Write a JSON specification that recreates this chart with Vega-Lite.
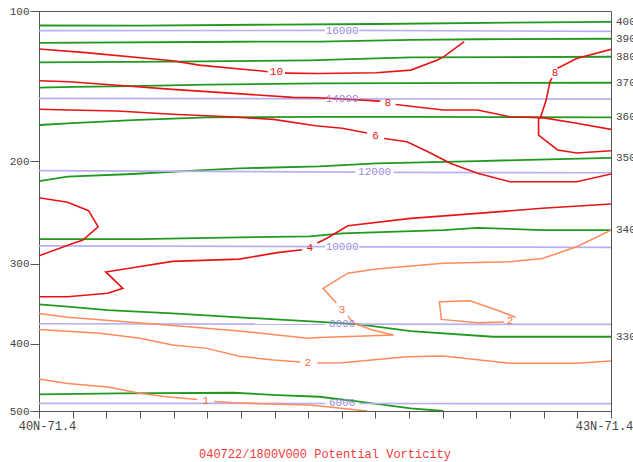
{
  "$schema": "https://vega.github.io/schema/vega-lite/v6.json",
  "width": 572,
  "height": 400,
  "autosize": {"type": "none"},
  "padding": {"left": 39, "top": 11, "right": 22, "bottom": 51},
  "background": "white",
  "config": {
    "view": {"stroke": "#555", "strokeWidth": 1},
    "font": "Liberation Mono"
  },
  "title": {
    "text": "040722/1800V000 Potential Vorticity",
    "orient": "bottom",
    "anchor": "middle",
    "offset": 18,
    "font": "Liberation Mono",
    "fontSize": 12,
    "fontWeight": "normal",
    "color": "#f03a3a"
  },
  "datasets": {
    "lines": [
      {"id":"g400","k":"theta","o":1,"lat":40,"p":107.6},{"id":"g400","k":"theta","o":2,"lat":40.53,"p":107.7},{"id":"g400","k":"theta","o":3,"lat":41.25,"p":107.1},{"id":"g400","k":"theta","o":4,"lat":41.77,"p":106.8},{"id":"g400","k":"theta","o":5,"lat":42.47,"p":106.1},{"id":"g400","k":"theta","o":6,"lat":43,"p":105.7},
      {"id":"g390","k":"theta","o":1,"lat":40,"p":117.2},{"id":"g390","k":"theta","o":2,"lat":41.05,"p":116.6},{"id":"g390","k":"theta","o":3,"lat":41.47,"p":116.5},{"id":"g390","k":"theta","o":4,"lat":41.95,"p":115.6},{"id":"g390","k":"theta","o":5,"lat":42.3,"p":115.2},{"id":"g390","k":"theta","o":6,"lat":43,"p":114.9},
      {"id":"g380","k":"theta","o":1,"lat":40,"p":128.8},{"id":"g380","k":"theta","o":2,"lat":40.7,"p":128.4},{"id":"g380","k":"theta","o":3,"lat":41.42,"p":127.6},{"id":"g380","k":"theta","o":4,"lat":41.59,"p":127.0},{"id":"g380","k":"theta","o":5,"lat":41.95,"p":125.8},{"id":"g380","k":"theta","o":6,"lat":43,"p":125.4},
      {"id":"g370","k":"theta","o":1,"lat":40,"p":145.0},{"id":"g370","k":"theta","o":2,"lat":40.18,"p":144.4},{"id":"g370","k":"theta","o":3,"lat":40.49,"p":143.9},{"id":"g370","k":"theta","o":4,"lat":40.88,"p":143.0},{"id":"g370","k":"theta","o":5,"lat":41.23,"p":142.5},{"id":"g370","k":"theta","o":6,"lat":41.47,"p":142.1},{"id":"g370","k":"theta","o":7,"lat":43,"p":141.7},
      {"id":"g360","k":"theta","o":1,"lat":40,"p":171.4},{"id":"g360","k":"theta","o":2,"lat":40.15,"p":170.1},{"id":"g360","k":"theta","o":3,"lat":40.49,"p":167.7},{"id":"g360","k":"theta","o":4,"lat":40.88,"p":165.7},{"id":"g360","k":"theta","o":5,"lat":41.47,"p":165.3},{"id":"g360","k":"theta","o":6,"lat":41.95,"p":165.3},{"id":"g360","k":"theta","o":7,"lat":43,"p":165.7},
      {"id":"g350","k":"theta","o":1,"lat":40,"p":217.3},{"id":"g350","k":"theta","o":2,"lat":40.15,"p":213.4},{"id":"g350","k":"theta","o":3,"lat":40.49,"p":211.1},{"id":"g350","k":"theta","o":4,"lat":40.81,"p":208.2},{"id":"g350","k":"theta","o":5,"lat":41.05,"p":206.2},{"id":"g350","k":"theta","o":6,"lat":41.47,"p":204.5},{"id":"g350","k":"theta","o":7,"lat":41.77,"p":202.0},{"id":"g350","k":"theta","o":8,"lat":42.3,"p":200.0},{"id":"g350","k":"theta","o":9,"lat":43,"p":197.3},
      {"id":"g340","k":"theta","o":1,"lat":40,"p":273.4},{"id":"g340","k":"theta","o":2,"lat":40.53,"p":273.4},{"id":"g340","k":"theta","o":3,"lat":41.05,"p":271.7},{"id":"g340","k":"theta","o":4,"lat":41.42,"p":270.6},{"id":"g340","k":"theta","o":5,"lat":41.59,"p":267.5},{"id":"g340","k":"theta","o":6,"lat":42.12,"p":264.1},{"id":"g340","k":"theta","o":7,"lat":42.3,"p":261.8},{"id":"g340","k":"theta","o":8,"lat":42.64,"p":264.1},{"id":"g340","k":"theta","o":9,"lat":43,"p":264.1},
      {"id":"g330","k":"theta","o":1,"lat":40,"p":348.1},{"id":"g330","k":"theta","o":2,"lat":40.15,"p":351.1},{"id":"g330","k":"theta","o":3,"lat":40.36,"p":355.3},{"id":"g330","k":"theta","o":4,"lat":40.7,"p":359.5},{"id":"g330","k":"theta","o":5,"lat":41.05,"p":364.6},{"id":"g330","k":"theta","o":6,"lat":41.45,"p":370.0},{"id":"g330","k":"theta","o":7,"lat":41.68,"p":373.7},{"id":"g330","k":"theta","o":8,"lat":41.95,"p":382.5},{"id":"g330","k":"theta","o":9,"lat":42.38,"p":390.2},{"id":"g330","k":"theta","o":10,"lat":43,"p":390.2},
      {"id":"g320","k":"theta","o":1,"lat":40,"p":473.6},{"id":"g320","k":"theta","o":2,"lat":40.42,"p":472.1},{"id":"g320","k":"theta","o":3,"lat":41.02,"p":471.2},{"id":"g320","k":"theta","o":4,"lat":41.25,"p":474.8},{"id":"g320","k":"theta","o":5,"lat":41.47,"p":477.4},{"id":"g320","k":"theta","o":6,"lat":41.68,"p":485.2},{"id":"g320","k":"theta","o":7,"lat":41.95,"p":495.9},{"id":"g320","k":"theta","o":8,"lat":42.12,"p":500},
      {"id":"h16a","k":"height","o":1,"lat":40,"p":110.4},{"id":"h16a","k":"height","o":2,"lat":41.5,"p":110.3},
      {"id":"h16b","k":"height","o":1,"lat":41.68,"p":110.3},{"id":"h16b","k":"height","o":2,"lat":43,"p":110.8},
      {"id":"h14a","k":"height","o":1,"lat":40,"p":152.2},{"id":"h14a","k":"height","o":2,"lat":41.5,"p":152.5},
      {"id":"h14b","k":"height","o":1,"lat":41.68,"p":152.6},{"id":"h14b","k":"height","o":2,"lat":43,"p":152.7},
      {"id":"h12a","k":"height","o":1,"lat":40,"p":208.2},{"id":"h12a","k":"height","o":2,"lat":41.66,"p":209.5},
      {"id":"h12b","k":"height","o":1,"lat":41.86,"p":209.7},{"id":"h12b","k":"height","o":2,"lat":43,"p":210.0},
      {"id":"h10a","k":"height","o":1,"lat":40,"p":280.5},{"id":"h10a","k":"height","o":2,"lat":41.5,"p":281.4},
      {"id":"h10b","k":"height","o":1,"lat":41.68,"p":281.6},{"id":"h10b","k":"height","o":2,"lat":43,"p":282.2},
      {"id":"h8a","k":"height","o":1,"lat":40,"p":372.9},{"id":"h8a","k":"height","o":2,"lat":41.5,"p":373.4},
      {"id":"h8b","k":"height","o":1,"lat":41.68,"p":373.5},{"id":"h8b","k":"height","o":2,"lat":43,"p":373.7},
      {"id":"h6a","k":"height","o":1,"lat":40,"p":487.7},{"id":"h6a","k":"height","o":2,"lat":41.5,"p":488.0},
      {"id":"h6b","k":"height","o":1,"lat":41.68,"p":488.0},{"id":"h6b","k":"height","o":2,"lat":43,"p":488.3},
      {"id":"pv10a","k":"pvhi","o":1,"lat":40,"p":120.8},{"id":"pv10a","k":"pvhi","o":2,"lat":40.23,"p":122.8},{"id":"pv10a","k":"pvhi","o":3,"lat":40.7,"p":127.8},{"id":"pv10a","k":"pvhi","o":4,"lat":40.84,"p":130.5},{"id":"pv10a","k":"pvhi","o":5,"lat":41.17,"p":134.2},{"id":"pv10a","k":"pvhi","o":6,"lat":41.2,"p":134.6},
      {"id":"pv10b","k":"pvhi","o":1,"lat":41.29,"p":135.5},{"id":"pv10b","k":"pvhi","o":2,"lat":41.47,"p":135.7},{"id":"pv10b","k":"pvhi","o":3,"lat":41.77,"p":135.3},{"id":"pv10b","k":"pvhi","o":4,"lat":41.95,"p":133.6},{"id":"pv10b","k":"pvhi","o":5,"lat":42.09,"p":127.4},{"id":"pv10b","k":"pvhi","o":6,"lat":42.12,"p":125.6},{"id":"pv10b","k":"pvhi","o":7,"lat":42.23,"p":116.6},
      {"id":"pv8a","k":"pvhi","o":1,"lat":40,"p":140.4},{"id":"pv8a","k":"pvhi","o":2,"lat":40.16,"p":141.1},{"id":"pv8a","k":"pvhi","o":3,"lat":40.41,"p":143.4},{"id":"pv8a","k":"pvhi","o":4,"lat":40.7,"p":146.1},{"id":"pv8a","k":"pvhi","o":5,"lat":41.02,"p":148.8},{"id":"pv8a","k":"pvhi","o":6,"lat":41.33,"p":151.5},{"id":"pv8a","k":"pvhi","o":7,"lat":41.47,"p":151.8},{"id":"pv8a","k":"pvhi","o":8,"lat":41.79,"p":154.1},
      {"id":"pv8b","k":"pvhi","o":1,"lat":41.87,"p":156.5},{"id":"pv8b","k":"pvhi","o":2,"lat":42.12,"p":160.4},{"id":"pv8b","k":"pvhi","o":3,"lat":42.3,"p":160.4},{"id":"pv8b","k":"pvhi","o":4,"lat":42.47,"p":165.3},{"id":"pv8b","k":"pvhi","o":5,"lat":42.63,"p":165.9},{"id":"pv8b","k":"pvhi","o":6,"lat":42.66,"p":153.4},{"id":"pv8b","k":"pvhi","o":7,"lat":42.68,"p":141.1},{"id":"pv8b","k":"pvhi","o":8,"lat":42.69,"p":138.7},
      {"id":"pv8c","k":"pvhi","o":1,"lat":42.72,"p":132.4},{"id":"pv8c","k":"pvhi","o":2,"lat":42.82,"p":126.4},{"id":"pv8c","k":"pvhi","o":3,"lat":43,"p":121.0},
      {"id":"pv8d","k":"pvhi","o":1,"lat":43,"p":174.7},{"id":"pv8d","k":"pvhi","o":2,"lat":42.82,"p":170.1},{"id":"pv8d","k":"pvhi","o":3,"lat":42.64,"p":165.9},{"id":"pv8d","k":"pvhi","o":4,"lat":42.62,"p":166.3},{"id":"pv8d","k":"pvhi","o":5,"lat":42.62,"p":179.1},{"id":"pv8d","k":"pvhi","o":6,"lat":42.72,"p":190.9},{"id":"pv8d","k":"pvhi","o":7,"lat":42.82,"p":193.4},{"id":"pv8d","k":"pvhi","o":8,"lat":43,"p":191.5},
      {"id":"pv6a","k":"pvhi","o":1,"lat":40,"p":159.9},{"id":"pv6a","k":"pvhi","o":2,"lat":40.16,"p":160.4},{"id":"pv6a","k":"pvhi","o":3,"lat":40.41,"p":161.1},{"id":"pv6a","k":"pvhi","o":4,"lat":40.7,"p":163.5},{"id":"pv6a","k":"pvhi","o":5,"lat":41.0,"p":165.3},{"id":"pv6a","k":"pvhi","o":6,"lat":41.23,"p":167.2},{"id":"pv6a","k":"pvhi","o":7,"lat":41.45,"p":172.0},{"id":"pv6a","k":"pvhi","o":8,"lat":41.59,"p":173.9},{"id":"pv6a","k":"pvhi","o":9,"lat":41.72,"p":177.5},
      {"id":"pv6b","k":"pvhi","o":1,"lat":41.81,"p":181.8},{"id":"pv6b","k":"pvhi","o":2,"lat":41.93,"p":184.3},{"id":"pv6b","k":"pvhi","o":3,"lat":42.04,"p":192.3},{"id":"pv6b","k":"pvhi","o":4,"lat":42.16,"p":202.0},{"id":"pv6b","k":"pvhi","o":5,"lat":42.3,"p":210.5},{"id":"pv6b","k":"pvhi","o":6,"lat":42.47,"p":217.9},{"id":"pv6b","k":"pvhi","o":7,"lat":42.82,"p":217.9},{"id":"pv6b","k":"pvhi","o":8,"lat":43,"p":211.1},
      {"id":"pv4L","k":"pvhi","o":1,"lat":40,"p":232.5},{"id":"pv4L","k":"pvhi","o":2,"lat":40.15,"p":236.8},{"id":"pv4L","k":"pvhi","o":3,"lat":40.26,"p":244.8},{"id":"pv4L","k":"pvhi","o":4,"lat":40.31,"p":260.7},{"id":"pv4L","k":"pvhi","o":5,"lat":40.23,"p":274.5},{"id":"pv4L","k":"pvhi","o":6,"lat":40.18,"p":277.9},{"id":"pv4L","k":"pvhi","o":7,"lat":40,"p":291.3},
      {"id":"pv4a","k":"pvhi","o":1,"lat":40,"p":338.8},{"id":"pv4a","k":"pvhi","o":2,"lat":40.15,"p":338.8},{"id":"pv4a","k":"pvhi","o":3,"lat":40.36,"p":334.6},{"id":"pv4a","k":"pvhi","o":4,"lat":40.44,"p":328.6},{"id":"pv4a","k":"pvhi","o":5,"lat":40.35,"p":309.4},{"id":"pv4a","k":"pvhi","o":6,"lat":40.49,"p":304.6},{"id":"pv4a","k":"pvhi","o":7,"lat":40.7,"p":297.5},{"id":"pv4a","k":"pvhi","o":8,"lat":41.05,"p":295.0},{"id":"pv4a","k":"pvhi","o":9,"lat":41.25,"p":287.9},{"id":"pv4a","k":"pvhi","o":10,"lat":41.38,"p":284.7},
      {"id":"pv4b","k":"pvhi","o":1,"lat":41.46,"p":277.6},{"id":"pv4b","k":"pvhi","o":2,"lat":41.51,"p":272.6},{"id":"pv4b","k":"pvhi","o":3,"lat":41.62,"p":259.7},{"id":"pv4b","k":"pvhi","o":4,"lat":41.95,"p":252.3},{"id":"pv4b","k":"pvhi","o":5,"lat":42.3,"p":247.4},{"id":"pv4b","k":"pvhi","o":6,"lat":42.64,"p":242.5},{"id":"pv4b","k":"pvhi","o":7,"lat":43,"p":238.4},
      {"id":"o3a","k":"pvlo","o":1,"lat":40,"p":359.5},{"id":"o3a","k":"pvlo","o":2,"lat":40.15,"p":364.6},{"id":"o3a","k":"pvlo","o":3,"lat":40.67,"p":374.6},{"id":"o3a","k":"pvlo","o":4,"lat":41.05,"p":382.5},{"id":"o3a","k":"pvlo","o":5,"lat":41.41,"p":392.3},{"id":"o3a","k":"pvlo","o":6,"lat":41.47,"p":391.2},{"id":"o3a","k":"pvlo","o":7,"lat":41.86,"p":387.9},{"id":"o3a","k":"pvlo","o":8,"lat":41.75,"p":381.2},{"id":"o3a","k":"pvlo","o":9,"lat":41.65,"p":372.4},{"id":"o3a","k":"pvlo","o":10,"lat":41.62,"p":363.0},
      {"id":"o3b","k":"pvlo","o":1,"lat":41.56,"p":346.5},{"id":"o3b","k":"pvlo","o":2,"lat":41.49,"p":328.6},{"id":"o3b","k":"pvlo","o":3,"lat":41.62,"p":310.8},{"id":"o3b","k":"pvlo","o":4,"lat":41.77,"p":306.1},{"id":"o3b","k":"pvlo","o":5,"lat":42.12,"p":299.7},{"id":"o3b","k":"pvlo","o":6,"lat":42.47,"p":297.9},{"id":"o3b","k":"pvlo","o":7,"lat":42.64,"p":294.3},{"id":"o3b","k":"pvlo","o":8,"lat":42.82,"p":281.5},{"id":"o3b","k":"pvlo","o":9,"lat":43,"p":264.1},
      {"id":"o2l","k":"pvlo","o":1,"lat":42.44,"p":370.7},{"id":"o2l","k":"pvlo","o":2,"lat":42.3,"p":371.6},{"id":"o2l","k":"pvlo","o":3,"lat":42.11,"p":367.2},{"id":"o2l","k":"pvlo","o":4,"lat":42.1,"p":344.9},{"id":"o2l","k":"pvlo","o":5,"lat":42.26,"p":343.7},{"id":"o2l","k":"pvlo","o":6,"lat":42.4,"p":355.3},{"id":"o2l","k":"pvlo","o":7,"lat":42.5,"p":364.4},
      {"id":"o2a","k":"pvlo","o":1,"lat":40,"p":380.3},{"id":"o2a","k":"pvlo","o":2,"lat":40.32,"p":385.5},{"id":"o2a","k":"pvlo","o":3,"lat":40.53,"p":392.3},{"id":"o2a","k":"pvlo","o":4,"lat":40.7,"p":401.5},{"id":"o2a","k":"pvlo","o":5,"lat":40.88,"p":406.1},{"id":"o2a","k":"pvlo","o":6,"lat":41.05,"p":417.1},{"id":"o2a","k":"pvlo","o":7,"lat":41.23,"p":422.6},{"id":"o2a","k":"pvlo","o":8,"lat":41.37,"p":425.4},
      {"id":"o2b","k":"pvlo","o":1,"lat":41.46,"p":426.9},{"id":"o2b","k":"pvlo","o":2,"lat":41.59,"p":426.4},{"id":"o2b","k":"pvlo","o":3,"lat":41.93,"p":417.9},{"id":"o2b","k":"pvlo","o":4,"lat":42.12,"p":416.9},{"id":"o2b","k":"pvlo","o":5,"lat":42.47,"p":427.3},{"id":"o2b","k":"pvlo","o":6,"lat":42.82,"p":427.3},{"id":"o2b","k":"pvlo","o":7,"lat":43,"p":424.0},
      {"id":"o1a","k":"pvlo","o":1,"lat":40,"p":450.3},{"id":"o1a","k":"pvlo","o":2,"lat":40.15,"p":456.9},{"id":"o1a","k":"pvlo","o":3,"lat":40.36,"p":462.2},{"id":"o1a","k":"pvlo","o":4,"lat":40.53,"p":472.1},{"id":"o1a","k":"pvlo","o":5,"lat":40.67,"p":477.4},{"id":"o1a","k":"pvlo","o":6,"lat":40.83,"p":481.8},
      {"id":"o1b","k":"pvlo","o":1,"lat":40.92,"p":484.9},{"id":"o1b","k":"pvlo","o":2,"lat":41.02,"p":486.8},{"id":"o1b","k":"pvlo","o":3,"lat":41.2,"p":488.9},{"id":"o1b","k":"pvlo","o":4,"lat":41.42,"p":490.5},{"id":"o1b","k":"pvlo","o":5,"lat":41.47,"p":492.1},{"id":"o1b","k":"pvlo","o":6,"lat":41.72,"p":500}
    ],
    "labels": [
      {"t":"16000","k":"height","lat":41.59,"p":110.4},
      {"t":"14000","k":"height","lat":41.59,"p":152.6},
      {"t":"12000","k":"height","lat":41.76,"p":209.6},
      {"t":"10000","k":"height","lat":41.59,"p":281.5},
      {"t":"8000","k":"height","lat":41.59,"p":373.5},
      {"t":"6000","k":"height","lat":41.59,"p":488.0},
      {"t":"10","k":"pvhi","lat":41.245,"p":135.0},
      {"t":"8","k":"pvhi","lat":41.83,"p":155.5},
      {"t":"8","k":"pvhi","lat":42.706,"p":135.3},
      {"t":"6","k":"pvhi","lat":41.765,"p":179.7},
      {"t":"4","k":"pvhi","lat":41.42,"p":282.6},
      {"t":"3","k":"pvlo","lat":41.59,"p":355.3},
      {"t":"2","k":"pvlo","lat":42.47,"p":369.0},
      {"t":"2","k":"pvlo","lat":41.41,"p":427.3},
      {"t":"1","k":"pvlo","lat":40.875,"p":484.1}
    ],
    "theta": [
      {"t":"400","lat":43,"p":105.9},
      {"t":"390","lat":43,"p":114.9},
      {"t":"380","lat":43,"p":125.4},
      {"t":"370","lat":43,"p":141.7},
      {"t":"360","lat":43,"p":165.7},
      {"t":"350","lat":43,"p":197.3},
      {"t":"340","lat":43,"p":264.1},
      {"t":"330","lat":43,"p":390.2}
    ]
  },
  "encoding": {
    "x": {
      "field": "lat", "type": "quantitative",
      "scale": {"domain": [40, 43], "nice": false, "zero": false},
      "axis": {
        "title": null, "grid": false,
        "values": [40, 40.17647, 40.35294, 40.52941, 40.70588, 40.88235, 41.05882, 41.23529, 41.41176, 41.58824, 41.76471, 41.94118, 42.11765, 42.29412, 42.47059, 42.64706, 42.82353, 43],
        "labelExpr": "datum.value <= 40.001 ? '40N-71.4' : (datum.value >= 42.999 ? '43N-71.4' : '')",
        "labelOverlap": false, "labelFlush": false, "labelBound": false,
        "labelOffset": {"condition": {"test": "datum.value < 41", "value": 8}, "value": -7},
        "tickSize": 7, "tickColor": "#555", "domainColor": "#555",
        "labelFont": "Liberation Mono", "labelFontSize": 12, "labelColor": "#444", "labelPadding": 2
      }
    },
    "y": {
      "field": "p", "type": "quantitative",
      "scale": {"type": "pow", "exponent": 0.286, "domain": [100, 500], "reverse": true, "nice": false, "zero": false},
      "axis": {
        "title": null, "grid": false,
        "values": [100, 200, 300, 400, 500],
        "tickSize": 9, "tickColor": "#555", "domainColor": "#555",
        "labelFont": "Liberation Mono", "labelFontSize": 11, "labelColor": "#444", "labelPadding": 1
      }
    }
  },
  "layer": [
    {
      "data": {"name": "lines"},
      "mark": {"type": "line", "clip": true, "interpolate": "linear"},
      "encoding": {
        "detail": {"field": "id"},
        "order": {"field": "o", "type": "quantitative"},
        "color": {
          "field": "k", "type": "nominal", "legend": null,
          "scale": {"domain": ["theta", "height", "pvhi", "pvlo"], "range": ["#1f9a1f", "#b9b0f2", "#e61414", "#ff8a5c"]}
        },
        "strokeWidth": {
          "field": "k", "type": "nominal", "legend": null,
          "scale": {"domain": ["theta", "height", "pvhi", "pvlo"], "range": [1.8, 1.5, 1.8, 1.4]}
        }
      }
    },
    {
      "data": {"name": "labels"},
      "mark": {"type": "text", "font": "Liberation Mono", "fontSize": 11, "align": "center", "baseline": "middle"},
      "encoding": {
        "text": {"field": "t"},
        "color": {
          "field": "k", "type": "nominal", "legend": null,
          "scale": {"domain": ["height", "pvhi", "pvlo"], "range": ["#9a88e6", "#e61414", "#ff6a3c"]}
        }
      }
    },
    {
      "data": {"name": "theta"},
      "mark": {"type": "text", "font": "Liberation Mono", "fontSize": 11, "align": "left", "baseline": "middle", "dx": 5, "color": "#444", "clip": false},
      "encoding": {
        "text": {"field": "t"}
      }
    }
  ],
  "resolve": {"scale": {"color": "independent"}}
}
